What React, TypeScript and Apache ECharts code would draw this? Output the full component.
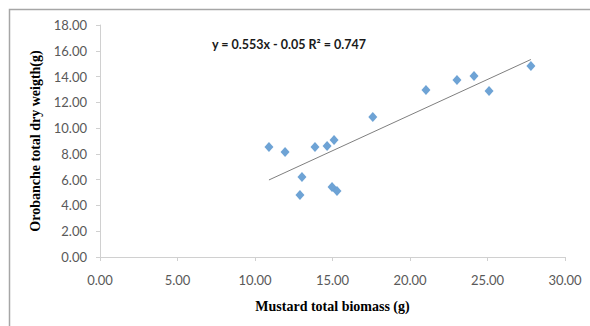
import React, { useEffect, useRef } from "react";
import * as echarts from "echarts";

const biomass = [10.9, 11.94, 13.87, 14.65, 15.1, 17.6, 21.03, 23.03, 24.13, 25.1, 27.8, 13.03, 12.9, 14.97, 15.29];
const dryWeight = [8.53, 8.15, 8.53, 8.61, 9.08, 10.86, 12.96, 13.73, 14.04, 12.88, 14.82, 6.21, 4.81, 5.43, 5.12];
const slope = 0.553;
const intercept = -0.05;
const equationText = "y = 0.553x - 0.05 R² = 0.747";
const xTitle = "Mustard total biomass (g)";
const yTitle = "Orobanche total dry weigth(g)";

export default function App() {
  const ref = useRef<HTMLDivElement>(null);
  useEffect(() => {
    if (!ref.current) return;
    const chart = echarts.init(ref.current, null, { renderer: "svg" });
    const xMin = Math.min(...biomass);
    const xMax = Math.max(...biomass);
    const trend = [
      [xMin, slope * xMin + intercept],
      [xMax, slope * xMax + intercept],
    ];
    const labelStyle = { color: "#595959", fontFamily: "Lato", fontSize: 13 };
    chart.setOption({
      animation: false,
      backgroundColor: "#fff",
      grid: { left: 100, right: 25, top: 25, bottom: 69 },
      xAxis: {
        type: "value",
        min: 0,
        max: 30,
        interval: 5,
        splitLine: { show: false },
        axisLine: { lineStyle: { color: "#d0d0d0" } },
        axisTick: { show: true, length: 4, lineStyle: { color: "#d0d0d0" } },
        axisLabel: { ...labelStyle, margin: 16, formatter: (v: number) => v.toFixed(2) },
        name: xTitle,
        nameLocation: "middle",
        nameGap: 42,
        nameTextStyle: { fontFamily: "Liberation Serif", fontWeight: "bold", fontSize: 14, color: "#000" },
      },
      yAxis: {
        type: "value",
        min: 0,
        max: 18,
        interval: 2,
        splitLine: { show: false },
        axisLine: { show: true, lineStyle: { color: "#d0d0d0" } },
        axisTick: { show: true, length: 4, lineStyle: { color: "#d0d0d0" } },
        axisLabel: { ...labelStyle, margin: 13, formatter: (v: number) => v.toFixed(2) },
        name: yTitle,
        nameLocation: "middle",
        nameGap: 55,
        nameTextStyle: { fontFamily: "Liberation Serif", fontWeight: "bold", fontSize: 14, color: "#000" },
      },
      graphic: [
        {
          type: "rect",
          shape: { x: 9.5, y: 9.5, width: 620, height: 360 },
          style: { fill: "none", stroke: "#a6a6a6", lineWidth: 1.5 },
          silent: true,
          z: -10,
        },
        {
          type: "text",
          x: 289,
          y: 44,
          style: {
            text: equationText,
            fontFamily: "Lato",
            fontWeight: "bold",
            fontSize: 12.5,
            fill: "#1a1a1a",
            align: "center",
            verticalAlign: "middle",
          },
        },
      ],
      series: [
        {
          type: "scatter",
          data: biomass.map((x, i) => [x, dryWeight[i]]),
          symbol: "diamond",
          symbolSize: [9, 10],
          itemStyle: { color: "#4a8ccb" },
          z: 3,
        },
        {
          type: "line",
          data: trend,
          symbol: "none",
          lineStyle: { color: "#7f7f7f", width: 1 },
          z: 2,
        },
      ],
    });
    return () => chart.dispose();
  }, []);
  return (
    <div
      ref={ref}
      style={{ position: "fixed", left: 0, top: 0, width: 590, height: 326 }}
    />
  );
}
